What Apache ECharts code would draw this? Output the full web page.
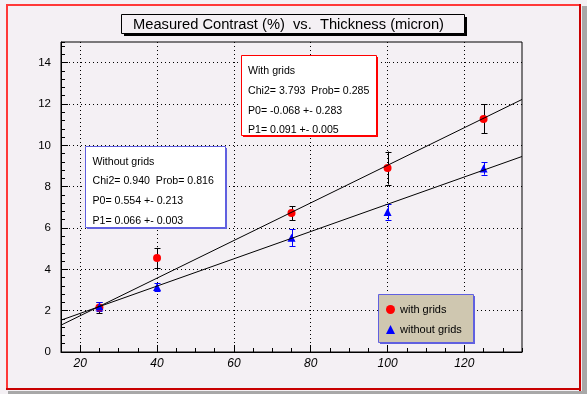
<!DOCTYPE html>
<html><head><meta charset="utf-8">
<script src="https://cdn.jsdelivr.net/npm/echarts@6/dist/echarts.min.js"></script>
<style>html,body{margin:0;padding:0;background:#f4f0f4;} #c{width:587px;height:394px;}</style>
</head><body><div id="c"></div>
<script>
// ---- data ----
const thickness = [25, 40, 75, 100, 125];
const withGrids = [2.15, 4.55, 6.72, 8.90, 11.28];
const withGridsErr = [0.26, 0.49, 0.34, 0.80, 0.70];
const withoutGrids = [2.20, 3.15, 5.53, 6.77, 8.88];
const withoutGridsErr = [0.20, 0.18, 0.41, 0.37, 0.30];
const fitX = [15, 135];
const fitWithY = [1.30, 12.22];
const fitWithoutY = [1.54, 9.46];
const xTicks = [20, 40, 60, 80, 100, 120];
const yTicks = [0, 2, 4, 6, 8, 10, 12, 14];
const titleText = 'Measured Contrast (%)  vs.  Thickness (micron)';
const statWith = ['With grids', 'Chi2= 3.793  Prob= 0.285', 'P0= -0.068 +- 0.283', 'P1= 0.091 +- 0.005'];
const statWithout = ['Without grids', 'Chi2= 0.940  Prob= 0.816', 'P0= 0.554 +- 0.213', 'P1= 0.066 +- 0.003'];
const legendNames = ['with grids', 'without grids'];

const FONT = '"Liberation Sans", Arial, Helvetica, sans-serif';
const BG = '#f4f0f4';

function errSeries(vals, errs, color) {
  return {
    type: 'custom', xAxisIndex: 0, yAxisIndex: 0, silent: true, z: 3,
    data: thickness.map((x, i) => [x, vals[i] - errs[i], vals[i] + errs[i]]),
    encode: { x: 0, y: [1, 2] },
    renderItem: function (params, api) {
      const lo = api.coord([api.value(0), api.value(1)]);
      const hi = api.coord([api.value(0), api.value(2)]);
      const x = Math.round(lo[0]) + 0.5, w = 3;
      const st = { stroke: color, lineWidth: 1 };
      return { type: 'group', children: [
        { type: 'line', shape: { x1: x, y1: lo[1], x2: x, y2: hi[1] }, style: st },
        { type: 'line', shape: { x1: x - w, y1: Math.round(lo[1]) + 0.5, x2: x + w, y2: Math.round(lo[1]) + 0.5 }, style: st },
        { type: 'line', shape: { x1: x - w, y1: Math.round(hi[1]) + 0.5, x2: x + w, y2: Math.round(hi[1]) + 0.5 }, style: st }
      ] };
    }
  };
}

function boxWithShadow(x, y, w, h, color, fill, z) {
  return [
    { type: 'rect', z: z, silent: true, shape: { x: x + 2, y: y + 2, width: w, height: h }, style: { fill: color } },
    { type: 'rect', z: z + 1, silent: true, shape: { x: x + 0.5, y: y + 0.5, width: w, height: h }, style: { fill: fill, stroke: color, lineWidth: 1 } }
  ];
}

function statBox(x, y, w, h, color, lines, textX, ys) {
  const els = boxWithShadow(x, y, w, h, color, '#ffffff', 100);
  lines.forEach((t, i) => els.push({ type: 'text', z: 102, silent: true, x: textX, y: ys[i],
    style: { text: t, fill: '#000', fontFamily: FONT, fontSize: 10.6, verticalAlign: 'middle', align: 'left' } }));
  return els;
}

const chart = echarts.init(document.getElementById('c'), null, { renderer: 'canvas' });
chart.setOption({
  backgroundColor: BG,
  animation: false,
  grid: { left: 61, top: 42, width: 461, height: 310, show: true, borderColor: '#000', borderWidth: 1, backgroundColor: BG },
  xAxis: [
    { type: 'value', min: 15, max: 135, interval: 5, position: 'bottom',
      axisLine: { lineStyle: { color: '#000', width: 1 } },
      axisTick: { inside: true, length: 4, lineStyle: { color: '#000' } },
      axisLabel: { show: false }, splitLine: { show: false } },
    { type: 'value', min: 15, max: 135, position: 'bottom',
      axisLine: { show: false },
      axisTick: { inside: true, length: 7, customValues: xTicks, lineStyle: { color: '#000' } },
      axisLabel: { customValues: xTicks, fontStyle: 'italic', fontFamily: FONT, fontSize: 12, color: '#000', margin: 6 },
      splitLine: { show: true, lineStyle: { color: '#000', type: [1, 3], width: 1 } } }
  ],
  yAxis: [
    { type: 'value', min: 0, max: 15, interval: 0.4, position: 'left',
      axisLine: { show: true, lineStyle: { color: '#000', width: 1 } },
      axisTick: { show: true, inside: true, length: 4, lineStyle: { color: '#000' } },
      axisLabel: { show: false }, splitLine: { show: false } },
    { type: 'value', min: 0, max: 15, interval: 2, position: 'left',
      axisLine: { show: false },
      axisTick: { show: true, inside: true, length: 7, customValues: yTicks, lineStyle: { color: '#000' } },
      axisLabel: { customValues: yTicks, fontFamily: FONT, fontSize: 11.5, color: '#000', margin: 10 },
      splitLine: { show: true, lineStyle: { color: '#000', type: [1, 3], width: 1 } } }
  ],
  legend: {
    data: legendNames, orient: 'vertical', left: 378, top: 294, z: 120,
    padding: [10, 11, 4, 8], itemGap: 9, itemWidth: 9, itemHeight: 9,
    backgroundColor: 'transparent', borderWidth: 0,
    textStyle: { fontFamily: FONT, fontSize: 11, color: '#000' }, selectedMode: false
  },
  series: [
    { name: 'fit with', type: 'line', data: fitX.map((x, i) => [x, fitWithY[i]]), symbol: 'none', silent: true, z: 4,
      lineStyle: { color: '#000', width: 1 } },
    { name: 'fit without', type: 'line', data: fitX.map((x, i) => [x, fitWithoutY[i]]), symbol: 'none', silent: true, z: 4,
      lineStyle: { color: '#000', width: 1 } },
    errSeries(withGrids, withGridsErr, '#000000'),
    errSeries(withoutGrids, withoutGridsErr, '#0000ff'),
    { name: legendNames[0], type: 'scatter', symbol: 'circle', symbolSize: 8, z: 3,
      data: thickness.map((x, i) => [x, withGrids[i]]), itemStyle: { color: '#ff0000', opacity: 1 } },
    { name: legendNames[1], type: 'scatter', symbol: 'triangle', symbolSize: 8, z: 3,
      data: thickness.map((x, i) => [x, withoutGrids[i]]), itemStyle: { color: '#0000ff', opacity: 1 } }
  ],
  graphic: [
    // canvas shadow
    { type: 'rect', shape: { x: 582, y: 6, width: 5, height: 388 }, style: { fill: '#a8a8a8' }, z: 0, silent: true },
    { type: 'rect', shape: { x: 8, y: 391, width: 579, height: 3 }, style: { fill: '#a8a8a8' }, z: 0, silent: true },
    // red frame
    { type: 'rect', shape: { x: 6, y: 4, width: 2, height: 386 }, style: { fill: '#ff3838' }, z: 0, silent: true },
    { type: 'rect', shape: { x: 6, y: 4, width: 575, height: 2 }, style: { fill: '#ff3838' }, z: 0, silent: true },
    { type: 'rect', shape: { x: 579, y: 4, width: 2, height: 387 }, style: { fill: '#c80000' }, z: 0, silent: true },
    { type: 'rect', shape: { x: 6, y: 388, width: 575, height: 2 }, style: { fill: '#c80000' }, z: 0, silent: true },
    // title
    { type: 'rect', z: 100, silent: true, shape: { x: 124, y: 17, width: 343, height: 19 }, style: { fill: '#000' } },
    { type: 'rect', z: 101, silent: true, shape: { x: 121.5, y: 14.5, width: 343, height: 19 }, style: { fill: BG, stroke: '#000', lineWidth: 1 } },
    { type: 'text', z: 102, silent: true, x: 288.5, y: 24.5, style: { text: titleText, fill: '#000', fontFamily: FONT, fontSize: 14.7, align: 'center', verticalAlign: 'middle' } },
    // legend box
    ...boxWithShadow(378, 294, 95, 48, '#6060e0', '#cfc7b0', 100),
    ...statBox(241, 55, 135, 80, '#ff0000', statWith, 248, [71.5, 91.2, 110.8, 130.3]),
    ...statBox(85, 146, 140, 81, '#6060e0', statWithout, 92.5, [161.7, 181.5, 201.5, 221.2])
  ]
});
</script>
</body></html>
